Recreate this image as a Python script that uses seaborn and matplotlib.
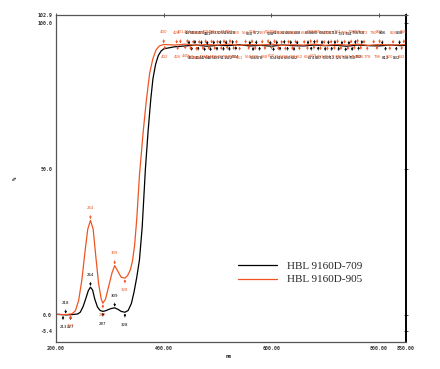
"""
UV-Vis transmittance of two HBL 9160D samples, with peak picks
"""

import numpy as np
import pandas as pd
import matplotlib
matplotlib.use("Agg")
import matplotlib.pyplot as plt
import seaborn as sns

# spectra (nm, %T)
nm_709 = [200, 210, 220, 230, 240, 245, 250, 255, 260, 264, 268, 272, 277, 282, 287,
          292, 297, 303, 309, 315, 321, 328, 334, 340, 345, 350, 355, 360, 366, 371,
          376, 380, 385, 390, 395, 400, 420, 440, 460, 480, 500, 520, 540, 560, 580,
          600, 620, 640, 660, 680, 700, 720, 740, 760, 780, 800, 820, 840, 850]
pct_709 = [0.3, 0.2, 0.1, 0.2, 0.4, 1.0, 2.8, 5.5, 8.4, 9.6, 8.6, 5.5, 2.8, 1.6, 1.3,
           1.5, 1.9, 2.3, 2.5, 2.0, 1.3, 1.0, 1.6, 4.0, 8.0, 13.0, 19.0, 30.0, 50.0, 63.0,
           74.0, 81.0, 86.0, 89.0, 90.5, 91.3, 92.0, 92.3, 92.6, 92.2, 92.5, 92.4, 92.7, 92.3, 92.5,
           92.2, 92.6, 92.4, 92.3, 92.6, 92.4, 92.5, 92.2, 92.6, 92.4, 92.3, 92.6, 92.4, 92.5]

nm_905 = [200, 210, 220, 230, 236, 242, 248, 254, 259, 264, 269, 274, 279, 284, 287,
          292, 298, 304, 309, 315, 321, 328, 333, 338, 342, 346, 350, 355, 362, 368, 374,
          380, 386, 392, 400, 420, 440, 460, 480, 500, 520, 540, 560, 580, 600, 620,
          640, 660, 680, 700, 720, 740, 760, 780, 800, 820, 840, 850]
pct_905 = [0.3, 0.2, 0.2, 0.5, 1.5, 5.0, 12.0, 22.0, 29.5, 32.5, 29.5, 20.0, 11.0, 5.5, 4.1,
           5.5, 10.0, 14.5, 17.0, 15.0, 13.0, 12.7, 13.6, 15.5, 18.5, 24.0, 33.0, 48.0, 63.0, 74.0, 83.0,
           88.0, 91.0, 92.3, 92.8, 92.6, 92.9, 92.5, 92.8, 92.6, 92.9, 92.5, 92.8, 92.6, 92.9, 92.5,
           92.7, 92.6, 92.9, 92.5, 92.8, 92.6, 92.9, 92.5, 92.8, 92.6, 92.7, 92.8]

# peak / valley picks (nm)
max_709 = [218, 264, 309, 447, 458, 470, 481, 493, 505, 516, 528, 560, 572, 598, 610, 624,
           636, 648, 668, 680, 694, 706, 718, 731, 744, 756, 768, 806, 838]
min_709 = [213, 227, 287, 328, 452, 464, 476, 487, 499, 511, 522, 534, 566, 578, 604, 616,
           630, 642, 674, 687, 700, 712, 725, 738, 750, 762, 812, 832]
max_905 = [264, 309, 400, 424, 431, 444, 455, 466, 478, 489, 500, 512, 523, 535, 552, 564,
           583, 594, 606, 619, 632, 645, 661, 673, 685, 698, 711, 723, 736, 748, 760, 772,
           790, 801, 826, 846]
min_905 = [227, 287, 328, 402, 426, 440, 450, 461, 473, 484, 495, 507, 518, 530, 541, 558,
           570, 588, 600, 613, 626, 639, 652, 667, 679, 691, 704, 717, 729, 742, 754, 766,
           778, 796, 820, 842]

labels = ["HBL 9160D-709", "HBL 9160D-905"]
colors = ["black", "#ee5522"]

df = pd.concat([
    pd.DataFrame({"nm": nm_709, "pct": pct_709, "sample": labels[0]}),
    pd.DataFrame({"nm": nm_905, "pct": pct_905, "sample": labels[1]}),
])

sns.set_style("white")
fig = plt.figure(figsize=(4.4, 3.69), dpi=100)
ax = fig.add_axes([56 / 440, 1 - 342 / 369, 350 / 440, 327 / 369])

sns.lineplot(data=df, x="nm", y="pct", hue="sample", palette=colors,
             estimator=None, linewidth=0.9, ax=ax, legend=False)


def pick(xs, ys, wls, up, color):
    for wl in wls:
        y = np.interp(wl, xs, ys)
        off = 8 if up else -8
        ax.annotate(str(wl), xy=(wl, y + (0.4 if up else -0.4)), xytext=(0, off),
                    textcoords="offset points", ha="center", va="center",
                    fontsize=2.8, color=color,
                    arrowprops=dict(arrowstyle="-|>", lw=0.5, color=color,
                                    mutation_scale=3, shrinkA=1.5, shrinkB=0))


pick(nm_709, pct_709, max_709, True, colors[0])
pick(nm_709, pct_709, min_709, False, colors[0])
pick(nm_905, pct_905, max_905, True, colors[1])
pick(nm_905, pct_905, min_905, False, colors[1])

ax.set_xlim(200, 850)
ax.set_ylim(-9.2, 102.9)
ax.set_xticks([200, 400, 600, 800, 850])
ax.set_xticklabels(["200.00", "400.00", "600.00", "800.00", "850.00"])
ax.set_yticks([-5.4, 0, 50, 100, 102.9])
ax.set_yticklabels(["-5.4", "0.0", "50.0", "100.0", "102.9"])
ax.tick_params(direction="inout", length=2.5, width=0.6, top=True, right=True,
               labelsize=3.6, pad=1.5, colors="#333333")
for lab in ax.get_xticklabels() + ax.get_yticklabels():
    lab.set_family("DejaVu Sans Mono")
    lab.set_weight("bold")

for side in ["left", "top", "bottom"]:
    ax.spines[side].set_color("#555555")
    ax.spines[side].set_linewidth(0.9)
ax.spines["right"].set_color("black")
ax.spines["right"].set_linewidth(1.4)

ax.set_xlabel("nm", fontsize=3.5, family="DejaVu Sans Mono", weight="bold")
ax.xaxis.set_label_coords((229 - 56) / 350, -12 / 327)
ax.set_ylabel("%", fontsize=4, family="DejaVu Sans Mono", weight="bold")
ax.yaxis.set_label_coords(-38 / 350, (342 - 178) / 327)

handles = [plt.Line2D([], [], color=c, lw=0.9) for c in colors]
ax.legend(handles, labels, loc="upper left", bbox_to_anchor=((238 - 56) / 350, (342 - 261) / 327),
          frameon=False, prop={"family": "Liberation Serif", "size": 8},
          handlelength=3.5, handletextpad=0.9, labelspacing=0.35,
          borderpad=0, borderaxespad=0)

fig.savefig("out.png", dpi=100)
